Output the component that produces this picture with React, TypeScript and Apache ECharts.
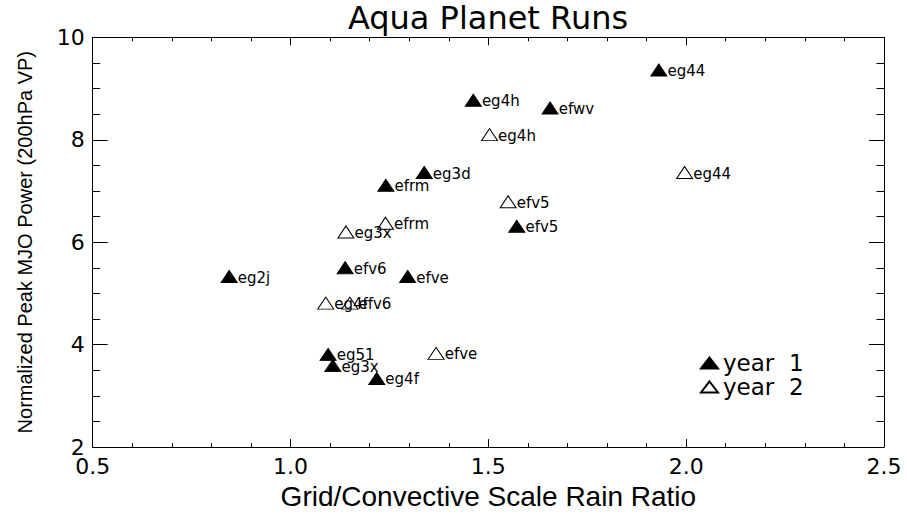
import React, { useEffect, useRef } from 'react';
import * as echarts from 'echarts';

// Year 1 runs (filled triangles)
const year1Names = ['eg44', 'eg4h', 'efwv', 'eg3d', 'efrm', 'efv5', 'efv6', 'eg2j', 'efve', 'eg51', 'eg3x', 'eg4f'];
const year1Ratio = [1.931, 1.462, 1.656, 1.338, 1.241, 1.572, 1.138, 0.845, 1.296, 1.095, 1.107, 1.218];
const year1Power = [9.36, 8.77, 8.62, 7.36, 7.11, 6.31, 5.50, 5.33, 5.33, 3.81, 3.59, 3.34];

// Year 2 runs (open triangles)
const year2Names = ['eg4h', 'eg44', 'efv5', 'efrm', 'eg3x', 'eg4f', 'efv6', 'efve'];
const year2Ratio = [1.503, 1.996, 1.550, 1.240, 1.140, 1.089, 1.150, 1.368];
const year2Power = [8.10, 7.36, 6.79, 6.37, 6.20, 4.81, 4.81, 3.83];

const seriesNames = ['year  1', 'year  2'];

const FONT = 'DejaVu Sans';

const toPoints = (names: string[], xs: number[], ys: number[]) =>
  names.map((n, i) => ({ name: n, value: [xs[i], ys[i]] }));

const xAxisBase = {
  type: 'value' as const,
  min: 0.5,
  max: 2.5,
  interval: 0.5,
  axisLine: { show: true, onZero: false, lineStyle: { color: '#000', width: 1 } },
  axisTick: { show: true, inside: true, length: 8, lineStyle: { color: '#000', width: 1 } },
  minorTick: { show: true, splitNumber: 5, length: 4, lineStyle: { color: '#000', width: 1 } },
  splitLine: { show: false },
};

const yAxisBase = {
  type: 'value' as const,
  min: 2,
  max: 10,
  interval: 2,
  axisLine: { show: true, onZero: false, lineStyle: { color: '#000', width: 1 } },
  axisTick: { show: true, inside: true, length: 15, lineStyle: { color: '#000', width: 1 } },
  minorTick: { show: true, splitNumber: 4, length: 7.5, lineStyle: { color: '#000', width: 1 } },
  splitLine: { show: false },
};

const labelStyle = {
  show: true,
  position: 'right' as const,
  distance: 0,
  offset: [0, 1],
  formatter: '{b}',
  color: '#000',
  fontFamily: FONT,
  fontSize: 15,
};

export default function App() {
  const ref = useRef<HTMLDivElement>(null);

  useEffect(() => {
    if (!ref.current) return;
    const chart = echarts.init(ref.current, null, { renderer: 'svg' });
    chart.setOption({
      animation: false,
      backgroundColor: '#fff',
      textStyle: { fontFamily: FONT, color: '#000' },
      title: {
        text: 'Aqua Planet Runs',
        left: 488,
        top: 2,
        padding: 0,
        textAlign: 'center',
        textStyle: { fontFamily: FONT, fontSize: 32, fontWeight: 'normal', color: '#000' },
      },
      legend: {
        orient: 'vertical',
        left: 700,
        top: 351,
        padding: 0,
        itemGap: 0,
        itemWidth: 17,
        itemHeight: 11,
        icon: 'triangle',
        data: seriesNames,
        textStyle: { fontFamily: FONT, fontSize: 23, color: '#000', lineHeight: 24 },
      },
      grid: { left: 92.7, right: 23, top: 37.3, bottom: 55, containLabel: false },
      xAxis: [
        {
          ...xAxisBase,
          position: 'bottom',
          axisLabel: {
            formatter: (v: number) => v.toFixed(1),
            margin: 8,
            fontSize: 22,
            color: '#000',
            fontFamily: FONT,
          },
          name: 'Grid/Convective Scale Rain Ratio',
          nameLocation: 'middle',
          nameGap: 24,
          nameTextStyle: { fontFamily: 'Liberation Sans', fontSize: 28, color: '#000' },
        },
        { ...xAxisBase, position: 'top', axisLabel: { show: false } },
      ],
      yAxis: [
        {
          ...yAxisBase,
          position: 'left',
          axisLabel: { margin: 8, fontSize: 22, color: '#000', fontFamily: FONT },
          name: 'Normalized Peak MJO Power (200hPa VP)',
          nameLocation: 'middle',
          nameGap: 58,
          nameTextStyle: { fontFamily: 'Liberation Sans', fontSize: 20, color: '#000' },
        },
        { ...yAxisBase, position: 'right', axisLabel: { show: false } },
      ],
      series: [
        {
          name: seriesNames[0],
          type: 'scatter',
          symbol: 'triangle',
          symbolSize: [16, 12],
          itemStyle: { color: '#000', borderColor: '#000', borderWidth: 1, opacity: 1 },
          label: labelStyle,
          data: toPoints(year1Names, year1Ratio, year1Power),
        },
        {
          name: seriesNames[1],
          type: 'scatter',
          symbol: 'triangle',
          symbolSize: [16, 12],
          itemStyle: { color: 'rgba(0,0,0,0)', borderColor: '#000', borderWidth: 1, opacity: 1 },
          label: labelStyle,
          data: toPoints(year2Names, year2Ratio, year2Power),
        },
      ],
    });
    return () => chart.dispose();
  }, []);

  return (
    <div
      ref={ref}
      style={{ position: 'absolute', left: 0, top: 0, width: 907, height: 515 }}
    />
  );
}
